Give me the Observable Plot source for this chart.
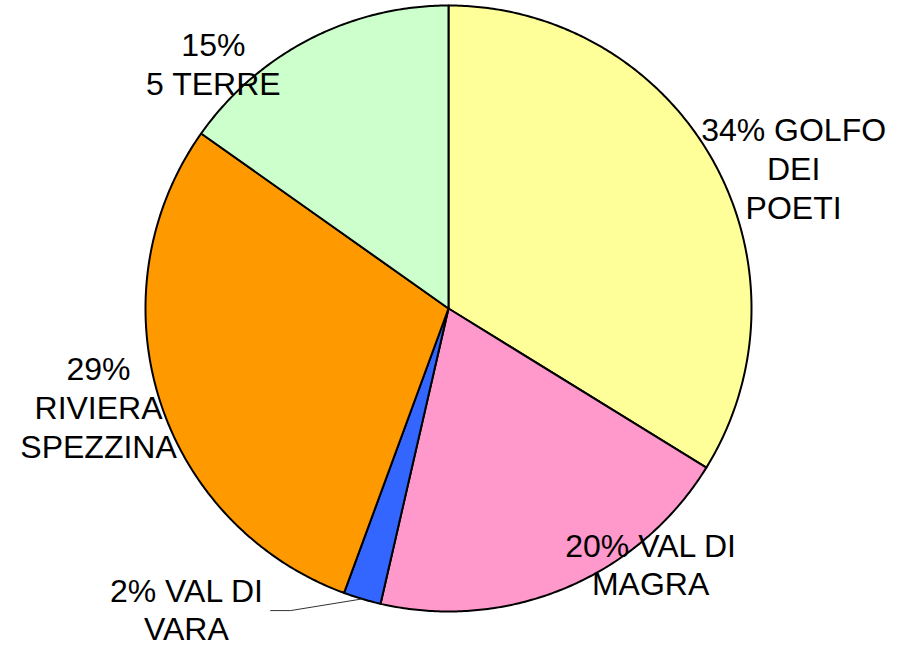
<!DOCTYPE html>
<html>
<head>
<meta charset="utf-8">
<script src="https://cdn.jsdelivr.net/npm/d3@7"></script>
<script src="https://cdn.jsdelivr.net/npm/@observablehq/plot@0.6"></script>
<style>
  html, body { margin: 0; padding: 0; background: #ffffff; }
  #chart svg { display: block; }
</style>
</head>
<body>
<div id="chart"></div>
<script>
// ---- data ----
const names = ["GOLFO DEI POETI", "VAL DI MAGRA", "VAL DI VARA", "RIVIERA SPEZZINA", "5 TERRE"];
const shares = [33.8, 19.8, 2.0, 29.2, 15.2];
const labels = ["34% GOLFO\nDEI\nPOETI", "20% VAL DI\nMAGRA", "2% VAL DI\nVARA", "29%\nRIVIERA\nSPEZZINA", "15%\n5 TERRE"];

// ---- style / layout ----
const colors = ["#FFFF99", "#FF99CC", "#3366FF", "#FF9900", "#CCFFCC"];
// label block centres in pie units (radius = 1)
const labelX = [1.139, 0.667, -0.865, -1.155, -0.776];
const labelY = [0.465, -0.842, -0.99, -0.324, 0.81];

// ---- geometry of slices (start at 12 o'clock, clockwise) ----
const total = d3.sum(shares);
const slicePts = [];
const mids = [];
let acc = 0;
names.forEach((n, i) => {
  const a0 = acc / total * 2 * Math.PI;
  acc += shares[i];
  const a1 = acc / total * 2 * Math.PI;
  mids.push((a0 + a1) / 2);
  const steps = Math.max(4, Math.ceil((a1 - a0) / (Math.PI / 360)));
  slicePts.push({name: n, x: 0, y: 0});
  for (let k = 0; k <= steps; k++) {
    const a = a0 + (a1 - a0) * k / steps;
    slicePts.push({name: n, x: Math.sin(a), y: Math.cos(a)});
  }
  slicePts.push({name: n, x: 0, y: 0});
});

const labelData = names.map((n, i) => ({name: n, label: labels[i], x: labelX[i], y: labelY[i]}));

// leader line for the small slice
const vi = 2;
const leader = [
  {x: -0.587, y: -0.997},
  {x: -0.521, y: -0.997},
  {x: Math.sin(mids[vi]) * 1.0, y: Math.cos(mids[vi]) * 1.0}
];

const chart = Plot.plot({
  width: 911,
  height: 647,
  marginLeft: 145,
  marginRight: 160,
  marginTop: 5,
  marginBottom: 36,
  x: {domain: [-1, 1], axis: null},
  y: {domain: [-1, 1], axis: null},
  color: {domain: names, range: colors},
  style: {background: "#ffffff", fontFamily: "'Liberation Sans', Arial, sans-serif"},
  marks: [
    Plot.line(slicePts, {x: "x", y: "y", z: "name", fill: "name", stroke: "#000000", strokeWidth: 2, strokeLinejoin: "round"}),
    Plot.line(leader, {x: "x", y: "y", stroke: "#333333", strokeWidth: 1}),
    Plot.text(labelData, {x: "x", y: "y", text: "label", fontSize: 32, lineHeight: 1.21, textAnchor: "middle", lineAnchor: "middle", fill: "#000000"})
  ]
});
document.getElementById("chart").appendChild(chart);
</script>
</body>
</html>
